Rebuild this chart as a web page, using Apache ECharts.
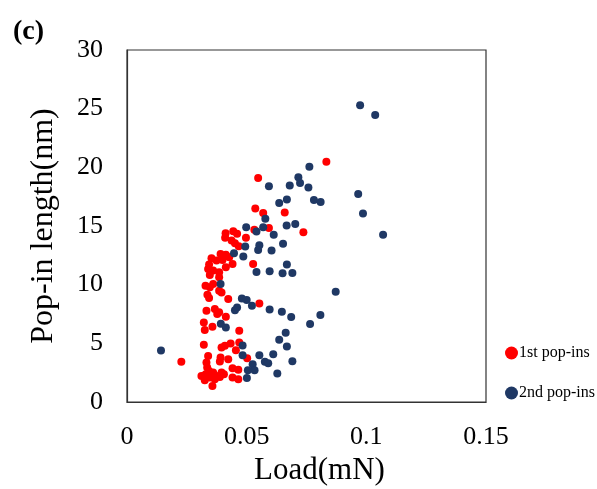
<!DOCTYPE html>
<html>
<head>
<meta charset="utf-8">
<script src="https://cdn.jsdelivr.net/npm/echarts@6/dist/echarts.min.js"></script>
<style>
html,body{margin:0;padding:0;background:#fff;}
#chart{width:597px;height:489px;}
</style>
</head>
<body>
<div id="chart"></div>
<script>
var seriesNames = ['1st pop-ins', '2nd pop-ins'];
var xTicks = [0, 0.05, 0.1, 0.15];
var yTicks = [0, 5, 10, 15, 20, 25, 30];

// 1st pop-ins: [load (mN), pop-in length (nm)]
var firstPopIns = [
  [0.0833,20.48],[0.0548,19.09],[0.0536,16.50],[0.0569,16.10],[0.0659,16.15],
  [0.0593,14.84],[0.0532,14.67],[0.0737,14.47],[0.0497,13.99],[0.0412,14.39],
  [0.0444,14.56],[0.0460,14.33],[0.0410,13.99],[0.0437,13.76],[0.0451,13.53],
  [0.0467,13.28],[0.0353,12.25],[0.0391,12.62],[0.0413,12.54],[0.0374,12.05],
  [0.0399,12.11],[0.0427,12.34],[0.0441,11.77],[0.0343,11.71],[0.0339,11.34],
  [0.0360,11.20],[0.0385,11.05],[0.0413,11.48],[0.0385,10.63],[0.0346,10.83],
  [0.0328,9.91],[0.0346,9.77],[0.0360,10.06],[0.0385,9.49],[0.0395,9.34],
  [0.0336,9.15],[0.0343,8.86],[0.0423,8.77],[0.0527,11.77],[0.0553,8.40],
  [0.0332,7.78],[0.0367,7.92],[0.0385,7.64],[0.0413,7.26],[0.0377,7.49],
  [0.0321,6.78],[0.0325,6.13],[0.0357,6.41],[0.0469,6.07],[0.0321,4.87],
  [0.0395,4.64],[0.0409,4.79],[0.0433,4.99],[0.0455,4.42],[0.0469,5.07],
  [0.0339,3.93],[0.0332,3.36],[0.0391,3.79],[0.0388,3.45],[0.0423,3.65],
  [0.0502,3.73],[0.0227,3.42],[0.0441,2.88],[0.0465,2.74],[0.0311,2.22],
  [0.0329,2.36],[0.0343,2.65],[0.0360,2.51],[0.0374,2.22],[0.0395,2.51],
  [0.0346,2.08],[0.0367,1.94],[0.0388,2.14],[0.0325,1.85],[0.0441,2.08],
  [0.0465,1.94],[0.0357,1.37],[0.0335,2.93],[0.0405,2.36]
];

// 2nd pop-ins: [load (mN), pop-in length (nm)]
var secondPopIns = [
  [0.0974,25.30],[0.1037,24.47],[0.0762,20.06],[0.0716,19.15],[0.0723,18.66],
  [0.0680,18.46],[0.0758,18.29],[0.0593,18.38],[0.0966,17.72],[0.0781,17.21],
  [0.0809,17.04],[0.0668,17.26],[0.0636,16.95],[0.0986,16.07],[0.1070,14.25],
  [0.0578,15.61],[0.0667,15.04],[0.0703,15.16],[0.0498,14.90],[0.0541,14.53],
  [0.0569,14.90],[0.0613,14.25],[0.0652,13.48],[0.0494,13.25],[0.0553,13.36],
  [0.0548,12.96],[0.0604,12.91],[0.0447,12.68],[0.0486,12.39],[0.0668,11.71],
  [0.0541,11.08],[0.0596,11.14],[0.0650,10.97],[0.0691,11.00],[0.0391,10.06],
  [0.0872,9.40],[0.0480,8.83],[0.0500,8.69],[0.0522,8.21],[0.0460,8.06],
  [0.0451,7.83],[0.0596,7.89],[0.0647,7.69],[0.0686,7.24],[0.0808,7.41],
  [0.0765,6.64],[0.0392,6.67],[0.0413,6.35],[0.0663,5.90],[0.0636,5.30],
  [0.0668,4.73],[0.0142,4.39],[0.0483,4.81],[0.0483,3.99],[0.0553,3.99],
  [0.0611,4.07],[0.0576,3.42],[0.0590,3.30],[0.0691,3.48],[0.0525,3.22],
  [0.0533,2.71],[0.0505,2.71],[0.0628,2.42],[0.0501,2.05]
];

var serif = '"Liberation Serif", "Times New Roman", serif';
var chart = echarts.init(document.getElementById('chart'), null, {renderer: 'canvas'});
chart.setOption({
  animation: false,
  backgroundColor: '#ffffff',
  grid: {left: 127, right: 111, top: 50, bottom: 87, containLabel: false, outerBoundsMode: 'none',
         show: true, borderColor: '#333333', borderWidth: 1.2, backgroundColor: 'transparent'},
  xAxis: {
    type: 'value', min: xTicks[0], max: xTicks[xTicks.length - 1], interval: 0.05,
    name: 'Load(mN)', nameLocation: 'middle', nameGap: 50,
    nameTextStyle: {fontFamily: serif, fontSize: 31, color: '#000', padding: [0, 0, 0, 26]},
    axisLine: {show: true, lineStyle: {color: '#333333', width: 1.2}},
    axisTick: {show: false}, splitLine: {show: false},
    axisLabel: {fontFamily: serif, fontSize: 26, color: '#000', margin: 22,
      formatter: function (v) { return String(parseFloat(v.toFixed(2))); }}
  },
  yAxis: {
    type: 'value', min: yTicks[0], max: yTicks[yTicks.length - 1], interval: 5,
    name: 'Pop-in length(nm)', nameLocation: 'middle', nameGap: 67,
    nameTextStyle: {fontFamily: serif, fontSize: 32, color: '#000'},
    axisLine: {show: true, lineStyle: {color: '#333333', width: 1.2}},
    axisTick: {show: false}, splitLine: {show: false},
    axisLabel: {fontFamily: serif, fontSize: 26, color: '#000', margin: 24}
  },
  legend: {
    orient: 'vertical', left: 500, top: 340, itemGap: 24,
    icon: 'circle', itemWidth: 13, itemHeight: 13,
    textStyle: {fontFamily: serif, fontSize: 16, color: '#000', padding: [0, 0, 0, -4]},
    data: seriesNames
  },
  graphic: [{
    type: 'text', left: 13, top: 18,
    style: {text: '(c)', font: 'bold 28px ' + serif, fill: '#000'}
  }],
  series: [
    {name: seriesNames[0], type: 'scatter', data: firstPopIns, symbolSize: 8,
     itemStyle: {color: '#ff0000', opacity: 1}},
    {name: seriesNames[1], type: 'scatter', data: secondPopIns, symbolSize: 8,
     itemStyle: {color: '#1f3864', opacity: 1}}
  ]
});
</script>
</body>
</html>
